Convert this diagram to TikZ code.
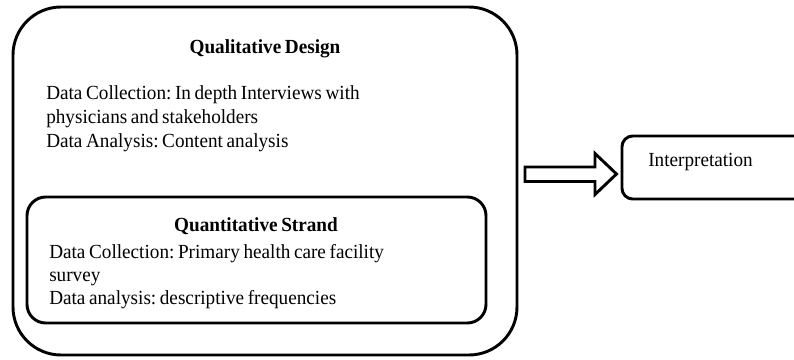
\documentclass[tikz,border=0pt]{standalone}
\usepackage{fontspec}
\setmainfont{Liberation Serif}[FakeStretch=0.96,WordSpace=0.75]
\frenchspacing
\begin{document}
\begin{tikzpicture}[x=0.75pt,y=-0.75pt,
  box/.style={draw=black,line width=2.2pt,rectangle,inner sep=0pt},
  txt/.style={inner sep=0pt,anchor=base west,font=\fontsize{15pt}{17.6pt}\selectfont},
  ttl/.style={inner sep=0pt,anchor=base,font=\fontsize{15pt}{17.6pt}\selectfont\bfseries},
  blockarrow/.style={draw=black,line width=2.2pt,line join=miter,fill=white}]
\useasboundingbox (0,0) rectangle (794,360);
\clip (0,0) rectangle (794,360);
% boxes
\node[box,rounded corners=36pt,minimum width=378pt,minimum height=261pt] (outer) at (265,181) {};
\node[box,rounded corners=14pt,minimum width=344.25pt,minimum height=94.5pt] (inner) at (256.5,260) {};
\node[box,rounded corners=8pt,minimum width=172.5pt,minimum height=47.25pt] (interp) at (737,167.5) {};
% texts
\node[ttl] (qdt) at (265,54) {Qualitative Design};
\node[txt] (qd1) at (46,100) {Data Collection: In depth Interviews with};
\node[txt] (qd2) at (46,123.5) {physicians and stakeholders};
\node[txt] (qd3) at (46,147) {Data Analysis: Content analysis};
\node[ttl] (qst) at (256,232) {Quantitative Strand};
\node[txt] (qs1) at (49,258) {Data Collection: Primary health care facility};
\node[txt] (qs2) at (49,281.5) {survey};
\node[txt] (qs3) at (49,305) {Data analysis: descriptive frequencies};
\node[txt] (it) at (648,167) {Interpretation};
% block arrow
\coordinate (at) at (616.5,174);
\draw[blockarrow] (525,167) -- (595,167) -- (595,153.5) -- (at) -- (595,194.5) -- (595,181.5) -- (525,181.5) -- cycle;
\end{tikzpicture}
\end{document}
